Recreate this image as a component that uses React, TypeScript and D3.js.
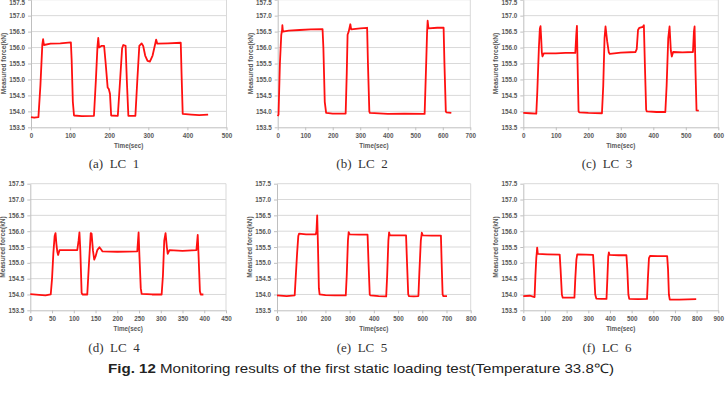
import * as d3 from "d3";
import { useEffect, useRef } from "react";

type Pt = [number, number];

// Measured force in kN against time in seconds, one series per load case
const lc1: Pt[] = [
  [0, 153.82], [8, 153.8], [19, 153.82], [24, 154.8], [29, 156.1], [31, 156.26],
  [33, 156.08], [50, 156.12], [75, 156.13], [102, 156.16], [104, 155.6], [107, 154.3],
  [110, 153.87], [130, 153.85], [161, 153.86], [166, 155.0], [170, 156.03], [172, 156.3],
  [174, 156.0], [180, 156.05], [187, 156.05], [191, 155.5], [196, 154.75], [199, 154.7],
  [202, 154.55], [205, 153.87], [222, 153.86], [228, 155.0], [233, 155.98], [236, 156.08],
  [242, 156.05], [245, 155.0], [249, 153.86], [267, 153.86], [272, 155.0], [277, 156.05],
  [283, 156.13], [287, 156.05], [292, 155.75], [298, 155.58], [304, 155.56], [311, 155.75],
  [317, 156.08], [320, 156.25], [323, 156.12], [350, 156.13], [383, 156.15], [385, 155.2],
  [388, 153.92], [410, 153.9], [430, 153.88], [453, 153.9],
];

const lc2: Pt[] = [
  [0, 153.85], [3, 153.9], [8, 155.5], [13, 156.4], [16, 156.55], [17, 156.7], [19, 156.5],
  [40, 156.53], [80, 156.55], [120, 156.57], [163, 156.58], [166, 156.0], [171, 154.3],
  [176, 153.95], [200, 153.93], [247, 153.93], [251, 155.2], [254, 156.4], [258, 156.5],
  [264, 156.73], [267, 156.57], [300, 156.6], [325, 156.62], [328, 155.5], [333, 154.0],
  [335, 153.95], [400, 153.92], [460, 153.93], [534, 153.92], [540, 155.6], [543, 156.5],
  [545, 156.84], [548, 156.6], [580, 156.62], [603, 156.62], [606, 155.5], [611, 154.0],
  [613, 153.97], [631, 153.95],
];

const lc3: Pt[] = [
  [0, 153.95], [20, 153.94], [40, 153.93], [43, 154.6], [48, 156.0], [51, 156.6], [53, 156.67],
  [55, 156.3], [57, 155.85], [59, 155.72], [63, 155.82], [100, 155.82], [130, 155.83],
  [160, 155.83], [163, 156.4], [165, 156.68], [167, 155.5], [170, 154.0], [172, 153.97],
  [200, 153.95], [242, 153.94], [246, 154.8], [250, 156.3], [253, 156.66], [258, 156.2],
  [263, 155.85], [266, 155.8], [300, 155.84], [345, 155.86], [349, 155.95], [353, 156.55],
  [357, 156.62], [368, 156.65], [371, 156.7], [374, 155.5], [378, 154.05], [380, 154.0],
  [410, 153.98], [437, 153.98], [441, 154.8], [446, 156.3], [450, 156.66], [454, 155.9],
  [457, 155.72], [461, 155.86], [490, 155.85], [522, 155.86], [525, 156.5], [527, 156.66],
  [530, 155.2], [533, 154.03], [540, 154.02],
];

const lc4: Pt[] = [
  [0, 154.01], [20, 153.99], [35, 153.97], [47, 154.0], [50, 154.5], [53, 155.3], [56, 155.85],
  [58, 155.94], [60, 155.6], [62, 155.36], [64, 155.25], [67, 155.4], [85, 155.4], [108, 155.4],
  [111, 155.7], [113, 155.96], [115, 155.4], [118, 154.05], [120, 154.0], [131, 154.0],
  [135, 155.0], [139, 155.94], [141, 155.92], [144, 155.4], [147, 155.1], [150, 155.2],
  [154, 155.4], [159, 155.49], [163, 155.42], [166, 155.36], [200, 155.35], [246, 155.36],
  [249, 155.96], [251, 155.2], [254, 154.2], [256, 154.02], [280, 154.0], [302, 154.0],
  [305, 154.6], [308, 155.7], [311, 155.94], [314, 155.5], [316, 155.28], [320, 155.4],
  [350, 155.38], [382, 155.4], [385, 155.88], [387, 155.2], [390, 154.1], [392, 154.0],
  [398, 154.0],
];

const lc5: Pt[] = [
  [0, 153.97], [40, 153.95], [73, 153.97], [77, 154.5], [83, 155.3], [88, 155.85], [91, 155.92],
  [120, 155.9], [160, 155.9], [163, 156.0], [166, 156.5], [169, 155.6], [173, 154.2],
  [176, 154.0], [200, 153.98], [240, 153.97], [284, 153.97], [288, 154.6], [293, 155.7],
  [296, 155.97], [300, 155.9], [340, 155.89], [374, 155.89], [378, 155.0], [383, 154.0],
  [386, 153.97], [420, 153.95], [451, 153.94], [455, 154.6], [460, 155.7], [463, 155.96],
  [466, 155.87], [500, 155.87], [533, 155.87], [537, 155.0], [542, 154.0], [545, 153.95],
  [565, 153.94], [584, 153.95], [588, 154.7], [594, 155.7], [598, 155.95], [602, 155.87],
  [640, 155.86], [677, 155.86], [680, 155.0], [684, 154.0], [687, 153.95], [702, 153.95],
];

const lc6: Pt[] = [
  [0, 153.95], [30, 153.96], [52, 153.92], [56, 154.6], [60, 155.15], [62, 155.3], [64, 155.48],
  [67, 155.28], [110, 155.27], [168, 155.26], [172, 154.8], [178, 154.0], [182, 153.9],
  [210, 153.9], [236, 153.9], [240, 154.5], [245, 155.1], [249, 155.27], [290, 155.26],
  [322, 155.25], [326, 154.8], [332, 154.0], [337, 153.87], [360, 153.86], [384, 153.86],
  [388, 154.5], [392, 155.2], [395, 155.33], [398, 155.25], [440, 155.24], [476, 155.24],
  [480, 154.8], [485, 154.0], [489, 153.86], [530, 153.85], [571, 153.86], [575, 154.5],
  [580, 155.15], [585, 155.22], [620, 155.21], [664, 155.21], [668, 154.8], [672, 154.0],
  [676, 153.84], [720, 153.84], [798, 153.85],
];

const forceTicks = [153.5, 154.0, 154.5, 155.0, 155.5, 156.0, 156.5, 157.0, 157.5];
const timeMax = [500, 700, 600, 450, 800, 900];
const timeStep = [100, 100, 100, 50, 100, 100];
const captions = ["(a)  LC  1", "(b)  LC  2", "(c)  LC  3", "(d)  LC  4", "(e)  LC  5", "(f)  LC  6"];
const figureCaption = "Monitoring results of the first static loading test(Temperature 33.8℃)";

const series = [lc1, lc2, lc3, lc4, lc5, lc6];

// plot-area boxes for the 2 x 3 grid
const boxes = [
  { left: 31, right: 226.5, top: -0.3, bottom: 127.3, capX: 114, capY: 167.5 },
  { left: 277.7, right: 470.3, top: -0.3, bottom: 127.3, capX: 362, capY: 167.5 },
  { left: 523.3, right: 718.3, top: -0.3, bottom: 127.3, capX: 607, capY: 167.5 },
  { left: 30.3, right: 226, top: 183.7, bottom: 310.3, capX: 114, capY: 351.5 },
  { left: 277, right: 470.7, top: 183.7, bottom: 310.3, capX: 362, capY: 351.5 },
  { left: 523.3, right: 718.3, top: 183.7, bottom: 310.3, capX: 607, capY: 351.5 },
];

const W = 726;
const H = 401;
const gridColor = "#d9d9d9";
const axisColor = "#bfbfbf";
const labelColor = "#595959";
const chartFont = "'Liberation Sans', Arial, sans-serif";

export default function App() {
  const svgRef = useRef<SVGSVGElement>(null);

  useEffect(() => {
    if (!svgRef.current) return;
    const svg = d3.select(svgRef.current);
    svg.selectAll("*").remove();

    series.forEach((data, i) => {
      const b = boxes[i];
      const g = svg.append("g");

      const x = d3.scaleLinear().domain([0, timeMax[i]]).range([b.left, b.right]);
      const y = d3.scaleLinear().domain([153.5, 157.5]).range([b.bottom, b.top]);

      // horizontal gridlines
      g.selectAll(".grid")
        .data(forceTicks.slice(1))
        .enter()
        .append("line")
        .attr("x1", b.left)
        .attr("x2", b.right)
        .attr("y1", (d) => y(d))
        .attr("y2", (d) => y(d))
        .style("stroke", gridColor)
        .style("stroke-width", 1);

      // right edge of the plot area
      g.append("line")
        .attr("x1", b.right)
        .attr("x2", b.right)
        .attr("y1", b.top)
        .attr("y2", b.bottom)
        .style("stroke", gridColor)
        .style("stroke-width", 1);

      const yAxis = d3
        .axisLeft(y)
        .tickValues(forceTicks)
        .tickSize(3)
        .tickSizeOuter(0)
        .tickPadding(3)
        .tickFormat(d3.format(".1f"));

      const xAxis = d3
        .axisBottom(x)
        .tickValues(d3.range(0, timeMax[i] + 1, timeStep[i]))
        .tickSize(3)
        .tickSizeOuter(0)
        .tickPadding(3)
        .tickFormat(d3.format("d"));

      const yAxisG = g.append("g").attr("transform", `translate(${b.left},0)`).call(yAxis);
      g.append("g").attr("transform", `translate(0,${b.bottom})`).call(xAxis);

      // keep the top label inside the page on the upper row
      if (b.top < 1) {
        yAxisG
          .selectAll<SVGTextElement, number>(".tick text")
          .filter((d) => d === 157.5)
          .attr("dy", "0.75em");
      }

      g.selectAll(".domain, .tick line").style("stroke", axisColor).style("stroke-width", 1);
      g.selectAll(".tick text")
        .style("font-family", chartFont)
        .style("font-size", "6.3px")
        .style("font-weight", "bold")
        .style("fill", labelColor);

      const line = d3
        .line<Pt>()
        .x((d) => x(d[0]))
        .y((d) => y(d[1]));

      g.append("path")
        .datum(data)
        .attr("d", line)
        .style("fill", "none")
        .style("stroke", "#ff1010")
        .style("stroke-width", 1.8)
        .style("stroke-linejoin", "round");

      // axis titles
      g.append("text")
        .attr("transform", `translate(${b.left - 27.5},${(b.top + b.bottom) / 2}) rotate(-90)`)
        .attr("text-anchor", "middle")
        .attr("dy", "0.35em")
        .style("font-family", chartFont)
        .style("font-size", "6.6px")
        .style("font-weight", "bold")
        .style("fill", labelColor)
        .text("Measured force(kN)");

      g.append("text")
        .attr("x", (b.left + b.right) / 2)
        .attr("y", b.bottom + 20.5)
        .attr("text-anchor", "middle")
        .style("font-family", chartFont)
        .style("font-size", "6.3px")
        .style("font-weight", "bold")
        .style("fill", labelColor)
        .text("Time(sec)");

      // panel caption
      g.append("text")
        .attr("x", b.capX)
        .attr("y", b.capY)
        .attr("text-anchor", "middle")
        .style("font-family", "'Liberation Serif', 'DejaVu Serif', serif")
        .style("font-size", "13px")
        .style("white-space", "pre")
        .style("fill", "#333")
        .text(captions[i]);
    });

    const cap = svg
      .append("text")
      .attr("x", 108)
      .attr("y", 372.5)
      .attr("textLength", 506)
      .attr("lengthAdjust", "spacingAndGlyphs")
      .style("font-family", "'Liberation Sans', Arial, sans-serif")
      .style("font-size", "13px")
      .style("fill", "#222");
    cap.append("tspan").style("font-weight", "bold").text("Fig. 12");
    cap.append("tspan").text(" " + figureCaption);
  }, []);

  return (
    <svg
      ref={svgRef}
      width={W}
      height={H}
      style={{ position: "absolute", left: 0, top: 0, background: "#fff" }}
    />
  );
}
